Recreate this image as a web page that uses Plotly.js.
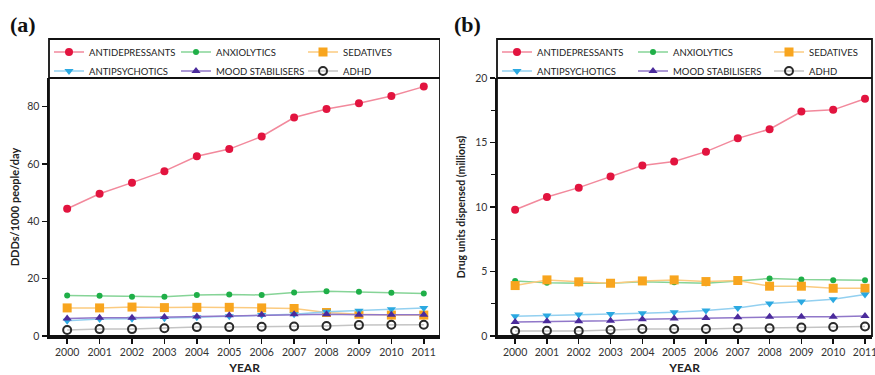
<!DOCTYPE html>
<html><head><meta charset="utf-8">
<script src="https://cdn.plot.ly/plotly-3.0.1.min.js"></script>
<style>
html,body{margin:0;padding:0;overflow:hidden;background:#fff;width:875px;height:375px}
#pa{position:absolute;left:0;top:0;width:440px;height:375px}
#pb{position:absolute;left:440px;top:0;width:480px;height:375px}
</style></head><body><div id="pa"></div><div id="pb"></div>
<script>
const years = [2000,2001,2002,2003,2004,2005,2006,2007,2008,2009,2010,2011];
const seriesNames = ['ANTIDEPRESSANTS','ANXIOLYTICS','SEDATIVES','ANTIPSYCHOTICS','MOOD STABILISERS','ADHD'];

// Panel (a): DDDs/1000 people/day
const dddAntidepressants = [44.4,49.6,53.5,57.5,62.7,65.2,69.6,76.2,79.2,81.2,83.7,87.0];
const dddAnxiolytics     = [14.1,14.0,13.7,13.7,14.3,14.5,14.3,15.2,15.6,15.4,15.1,14.8];
const dddSedatives       = [9.8,9.8,10.1,9.9,10.0,10.0,9.8,9.6,8.2,7.6,7.3,7.3];
const dddAntipsychotics  = [5.3,5.9,6.0,6.2,6.5,6.9,7.3,7.6,8.5,8.8,9.3,9.8];
const dddMoodStabilisers = [6.1,6.4,6.4,6.6,6.8,7.2,7.4,7.6,7.6,7.4,7.4,7.4];
const dddADHD            = [2.1,2.4,2.4,2.7,3.1,3.1,3.2,3.3,3.5,3.8,3.9,3.9];

// Panel (b): drug units dispensed (millions)
const unitsAntidepressants = [9.79,10.78,11.5,12.36,13.22,13.53,14.29,15.32,16.03,17.4,17.53,18.39];
const unitsAnxiolytics     = [4.27,4.12,4.09,4.09,4.2,4.17,4.09,4.27,4.46,4.38,4.33,4.33];
const unitsSedatives       = [3.91,4.35,4.2,4.09,4.27,4.35,4.22,4.3,3.86,3.86,3.7,3.7];
const unitsAntipsychotics  = [1.53,1.58,1.66,1.71,1.76,1.84,1.97,2.18,2.51,2.67,2.85,3.21];
const unitsMoodStabilisers = [1.09,1.14,1.14,1.19,1.3,1.35,1.4,1.45,1.5,1.5,1.5,1.55];
const unitsADHD            = [0.39,0.41,0.39,0.47,0.54,0.54,0.54,0.6,0.6,0.65,0.7,0.73];

const yTitleA = 'DDDs/1000 people/day';
const yTitleB = 'Drug units dispensed (millions)';
const xTitle = 'YEAR';

const styles = [
  {mc:'#E2143F', lc:'#F2899C', sym:'circle', size:8},
  {mc:'#1FAF48', lc:'#86D497', sym:'circle', size:6},
  {mc:'#F8A51E', lc:'#FBCB80', sym:'square', size:9},
  {mc:'#2BA9E1', lc:'#93D0F0', sym:'triangle-down', size:8},
  {mc:'#4B2B9C', lc:'#9077C9', sym:'triangle-up', size:8},
  {mc:'#2A2A2A', lc:'#C4C4C4', sym:'circle-open', size:8}
];

function makeTraces(dataArrays){
  return dataArrays.map((ys,i)=>{
    const s = styles[i];
    return {
      x: years, y: ys, name: seriesNames[i], type:'scatter', mode:'lines+markers',
      line:{color:s.lc, width:1.5},
      marker:{color:s.mc, symbol:s.sym, size:s.size, line:{width: s.sym==='circle-open'?2:0, color:s.mc}}
    };
  });
}

const FONT = 'Lato, "Open Sans", sans-serif';

function makeLayout(opts){
  const dEnd = opts.domainEnd;
  const top = 1 + 39/258;
  return {
    width: opts.width, height: 375,
    margin:{l:opts.ml, r:0, t:78, b:39},
    paper_bgcolor:'#fff', plot_bgcolor:'#fff',
    showlegend:true,
    font:{family:FONT, color:'#333', size:10},
    xaxis:{
      domain:[0,dEnd], range:opts.xr, tickmode:'array', tickvals:years, ticktext:years.map(String),
      showgrid:false, zeroline:false, showline:true, linecolor:'#111', linewidth:2.5,
      ticks:'outside', ticklen:5, tickwidth:1.5, tickcolor:'#111',
      tickfont:{family:FONT, size:10.5, color:'#333'},
      title:{text:'<b>'+xTitle+'</b>', font:{family:FONT, size:12, color:'#222'}, standoff:14}
    },
    yaxis:{
      range:opts.yr, tickvals:opts.yt, showgrid:false, zeroline:false, showline:true,
      linecolor:'#111', linewidth:2.5, ticks:'outside', ticklen:5, tickwidth:1.5, tickcolor:'#111',
      tickfont:{family:FONT, size:10.5, color:'#333'},
      minor: opts.minor ? {tickvals:opts.minor, ticks:'outside', ticklen:4, tickwidth:1.2, tickcolor:'#111'} : undefined,
      title:{text:'<b>'+opts.yTitle+'</b>', font:{family:FONT, size:opts.ytSize, color:'#222'}, standoff:opts.ytStandoff}
    },
    legend:{
      orientation:'h', x:opts.lx, xanchor:'left', y:1+40.5/258, yanchor:'top',
      entrywidth:opts.ew, entrywidthmode:'pixels', bgcolor:'rgba(0,0,0,0)', borderwidth:0,
      font:{family:FONT, size:9.5, color:'#222'}, itemclick:false
    },
    shapes:[
      {type:'rect', xref:'paper', yref:'paper', x0:0, x1:dEnd, y0:0, y1:top, line:{color:'#111', width:1.8}},
      {type:'line', xref:'paper', yref:'paper', x0:0, x1:dEnd, y0:1, y1:1, line:{color:'#111', width:2.2}}
    ],
    annotations:[
      {text:'<b>'+opts.label+'</b>', xref:'paper', yref:'paper', x:opts.labelX, y:1+(336-24)/258-1, xanchor:'left', yanchor:'middle',
       showarrow:false, font:{family:'"Liberation Serif", "DejaVu Serif", serif', size:22, color:'#111'}}
    ]
  };
}

Plotly.newPlot('pa',
  makeTraces([dddAntidepressants,dddAnxiolytics,dddSedatives,dddAntipsychotics,dddMoodStabilisers,dddADHD]),
  makeLayout({width:440, ml:49, domainEnd:1, xr:[1999.44,2011.5], yr:[0,90], yt:[0,20,40,60,80],
    yTitle:yTitleA, ytSize:11, ytStandoff:6, lx:0.0, ew:82, label:'(a)', labelX:-41/391}),
  {staticPlot:true});

Plotly.newPlot('pb',
  makeTraces([unitsAntidepressants,unitsAnxiolytics,unitsSedatives,unitsAntipsychotics,unitsMoodStabilisers,unitsADHD]),
  makeLayout({width:480, ml:57, domainEnd:375/423, xr:[1999.43,2011.22], yr:[0,20], yt:[0,5,10,15,20],
    minor:[2.5,7.5,12.5,17.5], yTitle:yTitleB, ytSize:10.5, ytStandoff:8, lx:0.0, ew:91, label:'(b)', labelX:-45/423}),
  {staticPlot:true});
</script></body></html>
